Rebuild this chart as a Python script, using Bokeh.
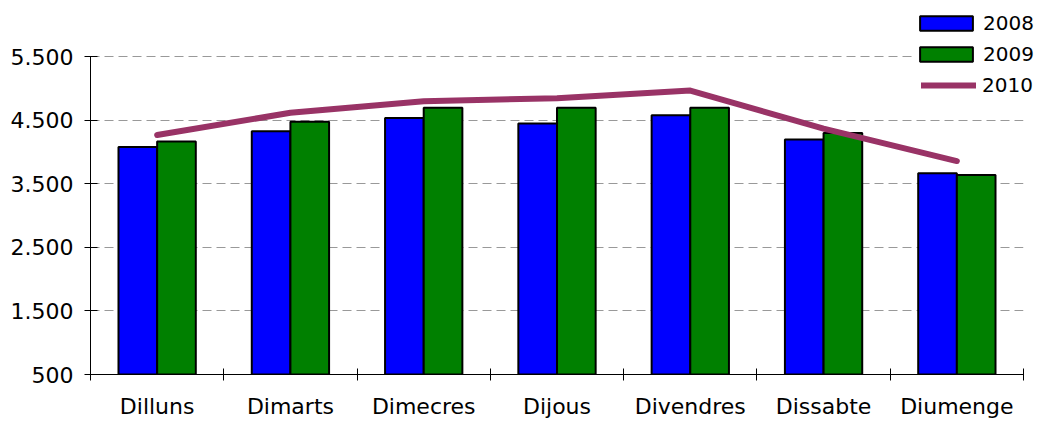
from bokeh.plotting import figure
from bokeh.models import Range1d, FixedTicker, Legend, LegendItem, BoxAnnotation
from bokeh.embed import file_html
from bokeh.resources import INLINE

# ---- data ----
days = ["Dilluns", "Dimarts", "Dimecres", "Dijous", "Divendres", "Dissabte", "Diumenge"]
v2008 = [4080, 4330, 4540, 4450, 4580, 4200, 3670]
v2009 = [4170, 4480, 4700, 4700, 4700, 4300, 3640]
v2010 = [4270, 4620, 4800, 4850, 4970, 4370, 3860]
y_ticks = [500, 1500, 2500, 3500, 4500, 5500]
y_tick_labels = ["500", "1.500", "2.500", "3.500", "4.500", "5.500"]

FONT = "DejaVu Sans"
FS = "22px"
LFS = "20px"

n = len(days)
centers = [i + 0.5 for i in range(n)]
x_blue = [c - 0.145 for c in centers]
x_green = [c + 0.145 for c in centers]

y_top = 500 + 5000 * 378 / (378 - 57)
x_end = n * (1039 - 90) / (1023 - 90)

p = figure(width=1039, height=421, output_backend="svg", toolbar_location=None,
           x_range=Range1d(0, x_end), y_range=Range1d(500, y_top),
           min_border_left=90, min_border_right=0, min_border_top=0, min_border_bottom=43)
p.outline_line_color = None
p.background_fill_color = "white"
p.border_fill_color = "white"

# hide grid beyond the last category
p.add_layout(BoxAnnotation(left=n, fill_color="white", fill_alpha=1.0,
                           line_color=None, level="underlay"))

r08 = p.vbar(x=x_blue, top=v2008, bottom=500, width=0.29, fill_color="#0000FF",
             line_color="black", line_width=2)
r09 = p.vbar(x=x_green, top=v2009, bottom=500, width=0.29, fill_color="#008000",
             line_color="black", line_width=2)
r10 = p.line(x=centers, y=v2010, line_color="#993366", line_width=6,
             line_cap="round", line_join="round")

# x axis
p.xaxis.ticker = FixedTicker(ticks=centers, minor_ticks=list(range(n + 1)))
p.xaxis.major_label_overrides = {c: d for c, d in zip(centers, days)}
p.xaxis.bounds = (0, n)
p.xaxis.major_tick_in = 0
p.xaxis.major_tick_out = 0
p.xaxis.minor_tick_in = 6
p.xaxis.minor_tick_out = 6
p.xaxis.minor_tick_line_color = "black"
p.xaxis.axis_line_color = "black"
p.xaxis.major_label_text_font = FONT
p.xaxis.major_label_text_font_size = FS
p.xaxis.major_label_text_color = "black"
p.xaxis.major_label_standoff = 13

# y axis
p.yaxis.ticker = FixedTicker(ticks=y_ticks, minor_ticks=[])
p.yaxis.major_label_overrides = {t: l for t, l in zip(y_ticks, y_tick_labels)}
p.yaxis.bounds = (500, 5500)
p.yaxis.major_tick_in = 7
p.yaxis.major_tick_out = 6
p.yaxis.minor_tick_line_color = None
p.yaxis.axis_line_color = "black"
p.yaxis.major_label_text_font = FONT
p.yaxis.major_label_text_font_size = FS
p.yaxis.major_label_text_color = "black"
p.yaxis.major_label_standoff = 11

p.xgrid.grid_line_color = None
p.ygrid.ticker = FixedTicker(ticks=y_ticks[1:])
p.ygrid.grid_line_color = "#999999"
p.ygrid.grid_line_dash = "9 5"
p.ygrid.grid_line_width = 1

leg1 = Legend(items=[LegendItem(label="2008", renderers=[r08]),
                     LegendItem(label="2009", renderers=[r09])],
              location=(823, 308), orientation="vertical",
              glyph_width=66, glyph_height=18, label_height=25, spacing=6,
              label_standoff=4, padding=0, margin=0,
              label_text_font=FONT, label_text_font_size=LFS, label_text_color="black",
              background_fill_color="white", background_fill_alpha=1.0,
              border_line_color=None)
leg2 = Legend(items=[LegendItem(label="2010", renderers=[r10])],
              location=(831, 277), orientation="vertical",
              glyph_width=55, glyph_height=18, label_height=25, spacing=6,
              label_standoff=6, padding=0, margin=0,
              label_text_font=FONT, label_text_font_size=LFS, label_text_color="black",
              background_fill_color="white", background_fill_alpha=1.0,
              border_line_color=None)
p.add_layout(leg1, "center")
p.add_layout(leg2, "center")

open("out.html", "w").write(file_html(p, INLINE))
